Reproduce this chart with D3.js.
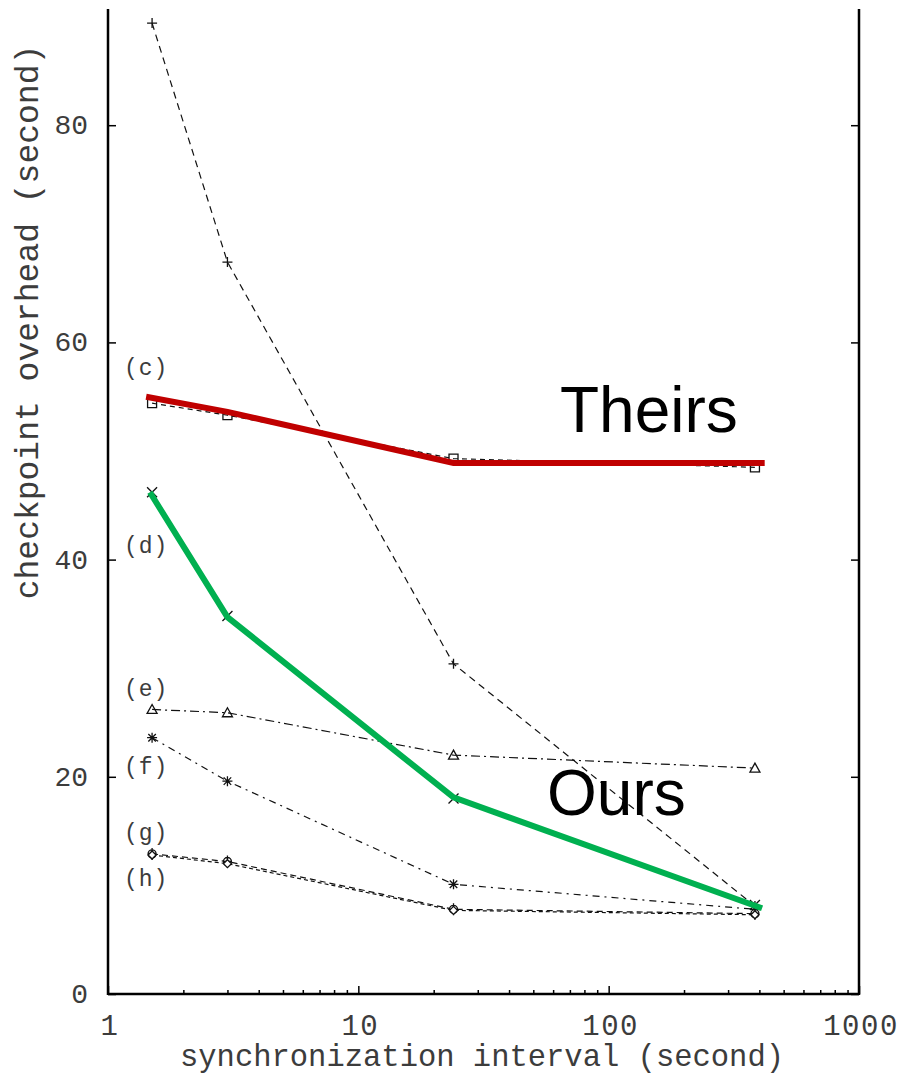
<!DOCTYPE html>
<html>
<head>
<meta charset="utf-8">
<script src="https://cdn.jsdelivr.net/npm/d3@7"></script>
<style>
  html, body { margin: 0; padding: 0; background: #fff; }
  svg { display: block; }
</style>
</head>
<body>
<div id="chart"></div>
<script>
// sync interval (seconds) at which each measured curve was sampled
const intervals = [1.5, 3, 24, 384];

// measured checkpoint overhead (seconds), one array per curve
const seriesB = [89.4, 67.4, 30.4, 8.1];
const seriesC = [54.4, 53.3, 49.3, 48.5];
const seriesD = [46.2, 34.8, 18.0, 8.2];
const seriesE = [26.2, 25.9, 22.0, 20.8];
const seriesF = [23.6, 19.6, 10.1, 7.8];
const seriesG = [12.9, 12.2, 7.8, 7.4];
const seriesH = [12.8, 12.0, 7.7, 7.3];

// highlighted overlay lines
const theirsX = [1.42, 3, 24, 420];
const theirsY = [55.0, 53.6, 48.9, 48.9];
const oursX = [1.47, 3, 24, 410];
const oursY = [46.2, 34.7, 18.1, 7.9];

// curve labels on the left
const labelNames = ["(c)", "(d)", "(e)", "(f)", "(g)", "(h)"];
const labelY = [57.0, 40.6, 27.4, 20.3, 14.2, 9.9];

const yTicks = [0, 20, 40, 60, 80];
const xTicks = [1, 10, 100, 1000];

const W = 900, H = 1077;
const plot = { left: 108, right: 859, top: 9, bottom: 994 };
const textColor = "#3c3c3c";

const svg = d3.select("#chart").append("svg")
    .attr("width", W)
    .attr("height", H)
    .style("font-family", "'Liberation Mono', 'DejaVu Sans Mono', monospace");

const x = d3.scaleLog().domain([1, 1000]).range([plot.left, plot.right]);
const y = d3.scaleLinear().domain([0, 90.7]).range([plot.bottom, plot.top]);

// ---- frame (left, right, bottom) ----
const frame = svg.append("g").attr("stroke", "#000").attr("stroke-width", 2.5);
frame.append("line").attr("x1", plot.left).attr("x2", plot.left).attr("y1", plot.top).attr("y2", plot.bottom + 1);
frame.append("line").attr("x1", plot.right).attr("x2", plot.right).attr("y1", plot.top).attr("y2", plot.bottom + 1);
frame.append("line").attr("x1", plot.left).attr("x2", plot.right).attr("y1", plot.bottom).attr("y2", plot.bottom);

// left y axis, ticks pointing inward
const yAxisL = svg.append("g")
    .attr("transform", `translate(${plot.left},0)`)
    .call(d3.axisRight(y).tickValues(yTicks).tickSize(8).tickFormat(""));
yAxisL.select(".domain").remove();
yAxisL.selectAll("line").attr("stroke", "#000").attr("stroke-width", 1.5);

// right y axis, ticks pointing inward
const yAxisR = svg.append("g")
    .attr("transform", `translate(${plot.right},0)`)
    .call(d3.axisLeft(y).tickValues(yTicks).tickSize(8).tickFormat(""));
yAxisR.select(".domain").remove();
yAxisR.selectAll("line").attr("stroke", "#000").attr("stroke-width", 1.5);

// y tick labels
svg.append("g").selectAll("text")
    .data(yTicks)
    .join("text")
    .attr("x", 88)
    .attr("y", d => y(d) + 9)
    .attr("text-anchor", "end")
    .attr("font-size", 28)
    .attr("fill", textColor)
    .text(d => d);

// bottom axis: major + minor ticks, pointing up
const minorTicks = [];
[1, 10, 100].forEach(dec => { for (let k = 2; k <= 9; k++) minorTicks.push(dec * k); });

const xMinor = svg.append("g")
    .attr("transform", `translate(0,${plot.bottom})`)
    .call(d3.axisTop(x).tickValues(minorTicks).tickSize(4).tickFormat(""));
xMinor.select(".domain").remove();
xMinor.selectAll("line").attr("stroke", "#000").attr("stroke-width", 1.5);

const xMajor = svg.append("g")
    .attr("transform", `translate(0,${plot.bottom})`)
    .call(d3.axisTop(x).tickValues(xTicks).tickSize(8).tickFormat(""));
xMajor.select(".domain").remove();
xMajor.selectAll("line").attr("stroke", "#000").attr("stroke-width", 1.5);

svg.append("g").selectAll("text")
    .data(xTicks)
    .join("text")
    .attr("x", d => x(d) + 2)
    .attr("y", 1035)
    .attr("text-anchor", "middle")
    .attr("font-size", 29)
    .attr("letter-spacing", 1.5)
    .attr("fill", textColor)
    .text(d => d);

// axis titles
svg.append("text")
    .attr("x", 482)
    .attr("y", 1066)
    .attr("text-anchor", "middle")
    .attr("font-size", 30.5)
    .attr("fill", textColor)
    .text("synchronization interval (second)");

svg.append("text")
    .attr("transform", "translate(38,322) rotate(-90)")
    .attr("text-anchor", "middle")
    .attr("font-size", 33)
    .attr("fill", textColor)
    .text("checkpoint overhead (second)");

// ---- marker shapes ----
const markerPath = {
    plus: s => `M${-s},0H${s}M0,${-s}V${s}`,
    square: s => `M${-s},${-s}H${s}V${s}H${-s}Z`,
    cross: s => `M${-s},${-s}L${s},${s}M${-s},${s}L${s},${-s}`,
    triangle: s => `M0,${-s}L${s},${s * 0.8}H${-s}Z`,
    star: s => `M${-s},0H${s}M0,${-s}V${s}M${-s * 0.75},${-s * 0.75}L${s * 0.75},${s * 0.75}M${-s * 0.75},${s * 0.75}L${s * 0.75},${-s * 0.75}`,
    circplus: s => `M${-s},0A${s},${s} 0 1,0 ${s},0A${s},${s} 0 1,0 ${-s},0M${-s},0H${s}M0,${-s - 2}V${s + 2}`,
    diamond: s => `M0,${-s}L${s},0L0,${s}L${-s},0Z`
};

const curves = [
    { values: seriesB, dash: "7,5", marker: "plus", size: 5 },
    { values: seriesC, dash: "5,4", marker: "square", size: 4.5 },
    { values: seriesD, dash: "3,3", marker: "cross", size: 5 },
    { values: seriesE, dash: "9,4,2,4", marker: "triangle", size: 5 },
    { values: seriesF, dash: "7,5,2,5", marker: "star", size: 5 },
    { values: seriesG, dash: "6,4", marker: "circplus", size: 4 },
    { values: seriesH, dash: "4,3", marker: "diamond", size: 4 }
];

const line = d3.line().x(d => x(d[0])).y(d => y(d[1]));

const curveG = svg.append("g");
curves.forEach(c => {
    const pts = intervals.map((t, i) => [t, c.values[i]]);
    curveG.append("path")
        .attr("d", line(pts))
        .attr("fill", "none")
        .attr("stroke", "#111")
        .attr("stroke-width", 1.2)
        .attr("stroke-dasharray", c.dash);
    curveG.selectAll(null)
        .data(pts)
        .join("path")
        .attr("transform", d => `translate(${x(d[0])},${y(d[1])})`)
        .attr("d", markerPath[c.marker](c.size))
        .attr("fill", c.marker === "circplus" || c.marker === "diamond" ? "#fff" : "none")
        .attr("stroke", "#111")
        .attr("stroke-width", 1.3);
});

// curve labels
svg.append("g").selectAll("text")
    .data(labelNames)
    .join("text")
    .attr("x", 124)
    .attr("y", (d, i) => y(labelY[i]))
    .attr("font-size", 23)
    .attr("letter-spacing", 1)
    .attr("fill", textColor)
    .text(d => d);

// ---- highlighted overlay lines ----
svg.append("path")
    .attr("d", line(theirsX.map((t, i) => [t, theirsY[i]])))
    .attr("fill", "none")
    .attr("stroke", "#c00000")
    .attr("stroke-width", 6);

svg.append("path")
    .attr("d", line(oursX.map((t, i) => [t, oursY[i]])))
    .attr("fill", "none")
    .attr("stroke", "#00b050")
    .attr("stroke-width", 6);

svg.append("text")
    .attr("x", 560)
    .attr("y", 432)
    .attr("font-family", "'Liberation Sans', Arial, sans-serif")
    .attr("font-size", 64)
    .attr("fill", "#000")
    .text("Theirs");

svg.append("text")
    .attr("x", 547)
    .attr("y", 815)
    .attr("font-family", "'Liberation Sans', Arial, sans-serif")
    .attr("font-size", 64)
    .attr("fill", "#000")
    .text("Ours");
</script>
</body>
</html>
